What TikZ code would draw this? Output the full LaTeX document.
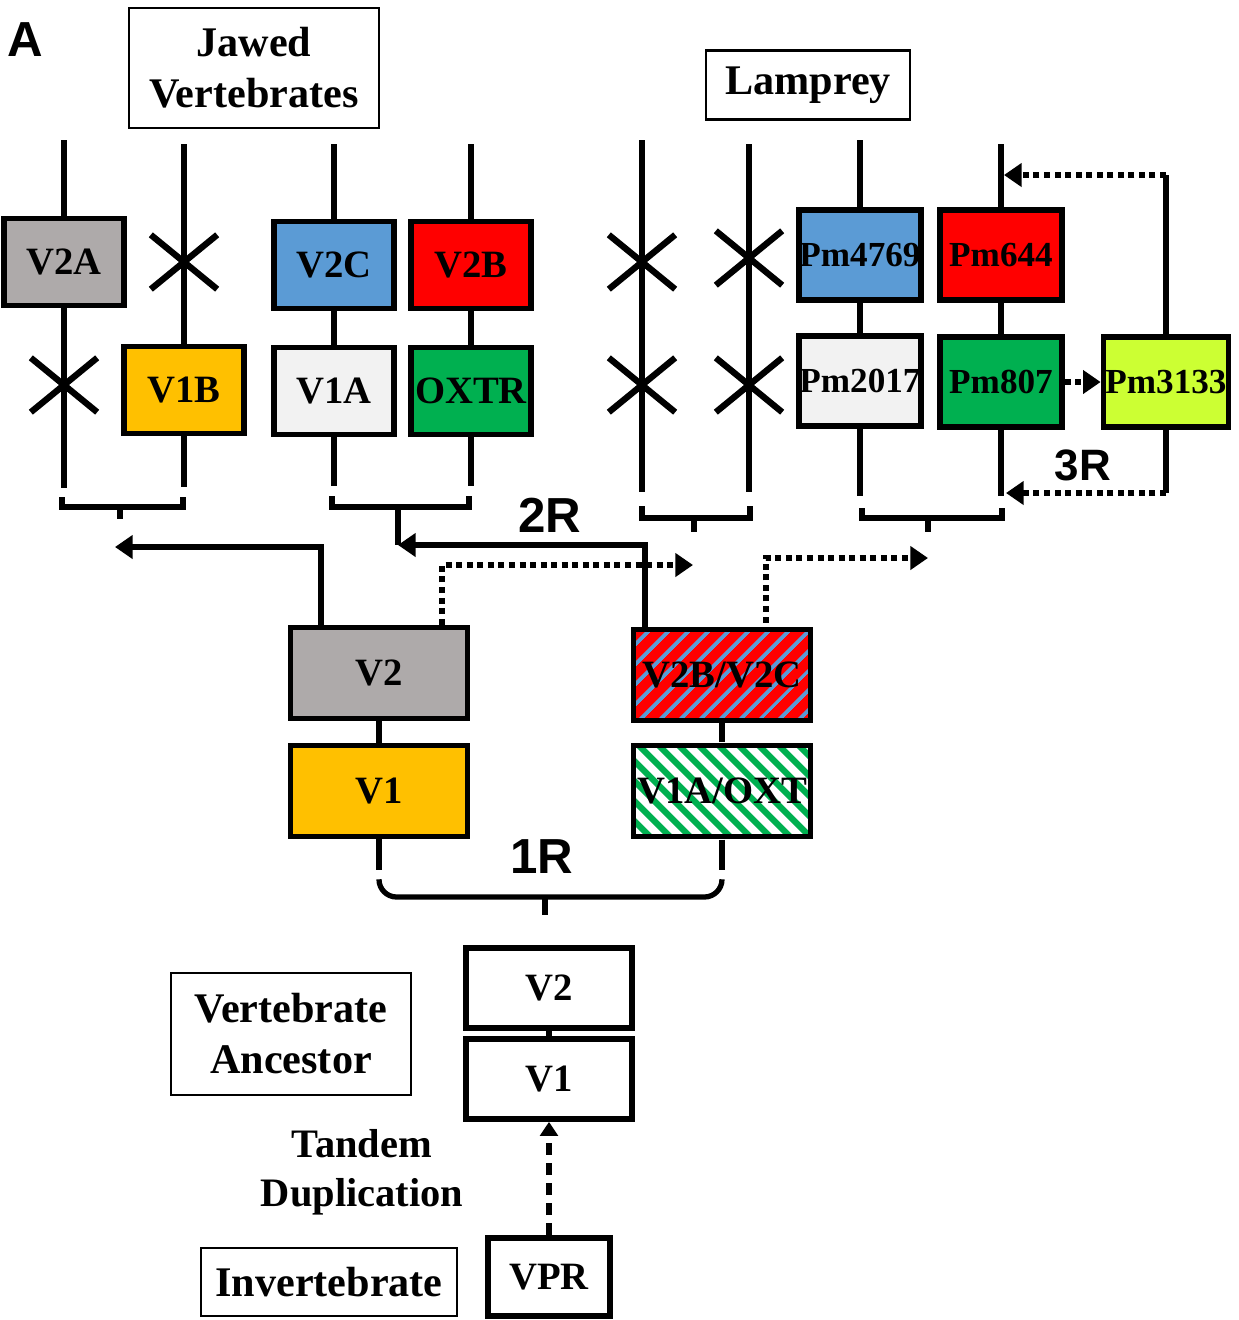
\documentclass[tikz,border=0pt]{standalone}
\usepackage{fontspec}
\setmainfont{Liberation Serif}
\newfontfamily\arialfont{Liberation Sans}
\usetikzlibrary{arrows.meta,shapes.misc,patterns.meta}

\definecolor{vgray}{HTML}{AEAAAA}
\definecolor{vgold}{HTML}{FFC000}
\definecolor{vblue}{HTML}{5B9BD5}
\definecolor{vlight}{HTML}{F2F2F2}
\definecolor{vgreen}{HTML}{00B050}
\definecolor{vlime}{HTML}{CCFF33}

\tikzset{
    gene/.style={draw, line width=1.6pt, inner sep=0pt, font=\bfseries\fontsize{11}{13}\selectfont},
    jbox/.style={gene, minimum width=1.2cm, minimum height=0.87cm},
    lbox/.style={gene, minimum width=1.22cm, minimum height=0.9cm, font=\bfseries\fontsize{10}{12}\selectfont},
    mbox/.style={gene, minimum width=1.77cm, minimum height=0.91cm},
    abox/.style={gene, minimum width=1.66cm, minimum height=0.8cm},
    tag/.style={draw, line width=0.6pt, align=center, font=\bfseries\fontsize{12}{14.5}\selectfont},
    chrom/.style={line width=1.5pt},
    loss/.style={cross out, draw, line width=1.8pt, minimum width=0.6cm, minimum height=0.48cm, inner sep=0pt},
    dup/.style={line width=1.8pt, dash pattern=on 1.7pt off 1.3pt, -{Triangle[length=5pt,width=6.5pt]}},
    move/.style={line width=1.5pt, -{Triangle[length=5pt,width=6.5pt]}},
    tandemarrow/.style={line width=1.5pt, dash pattern=on 3.4pt off 2.3pt, -{Triangle[length=4pt,width=5pt]}},
    round/.style={font=\arialfont\bfseries\fontsize{14}{16}\selectfont},
    redblue/.style={preaction={fill=red}, pattern={Lines[angle=45,distance=4pt,line width=1.1pt]}, pattern color=vblue},
    greenwhite/.style={preaction={fill=white}, pattern={Lines[angle=-45,distance=4pt,line width=1.8pt]}, pattern color=vgreen},
}

\begin{document}
\begin{tikzpicture}[x=0.01cm, y=-0.01cm]
    \useasboundingbox (0,0) rectangle (1239,1320);

    \node[round] (panel) at (25,40) {A};
    \node[tag, minimum width=2.5cm, minimum height=1.2cm] (jawed) at (254,68) {Jawed\\Vertebrates};
    \node[tag, minimum width=2.03cm, minimum height=0.69cm] (lamprey) at (808,85) {Lamprey};

    % jawed vertebrates
    \node[jbox, fill=vgray] (v2a) at (64,262) {V2A};
    \node[jbox, fill=vgold] (v1b) at (184,390) {V1B};
    \node[jbox, fill=vblue] (v2c) at (334,265) {V2C};
    \node[jbox, fill=red] (v2b) at (471,265) {V2B};
    \node[jbox, fill=vlight] (v1a) at (334,391) {V1A};
    \node[jbox, fill=vgreen] (oxtr) at (471,391) {OXTR};

    \coordinate (j1t) at (64,140);
    \coordinate (j1b) at (64,488);
    \coordinate (j2t) at (184,144);
    \coordinate (j2b) at (184,487);
    \coordinate (j3t) at (334,144);
    \coordinate (j3b) at (334,486);
    \coordinate (j4t) at (471,144);
    \coordinate (j4b) at (471,486);

    \draw[chrom] (j1t) -- (v2a.north);
    \draw[chrom] (v2a.south) -- (j1b);
    \draw[chrom] (j2t) -- (v1b.north);
    \draw[chrom] (v1b.south) -- (j2b);
    \draw[chrom] (j3t) -- (v2c.north);
    \draw[chrom] (v2c) -- (v1a);
    \draw[chrom] (v1a.south) -- (j3b);
    \draw[chrom] (j4t) -- (v2b.north);
    \draw[chrom] (v2b) -- (oxtr);
    \draw[chrom] (oxtr.south) -- (j4b);

    \node[loss] (x1) at (64,385) {};
    \node[loss] (x2) at (184,262) {};

    \draw[chrom] (62,497) |- (183,507) -- (183,497);
    \draw[chrom] (120,507) -- (120,519);
    \coordinate (jb2) at (398,545);
    \draw[chrom] (332,496) |- (469,507) -- (469,496);
    \draw[chrom] (398,507) -- (jb2);

    % lamprey
    \node[lbox, fill=vblue] (pm4769) at (860,255) {Pm4769};
    \node[lbox, fill=red] (pm644) at (1001,255) {Pm644};
    \node[lbox, fill=vlight] (pm2017) at (860,381) {Pm2017};
    \node[lbox, fill=vgreen] (pm807) at (1001,382) {Pm807};
    \node[lbox, fill=vlime, minimum width=1.25cm] (pm3133) at (1166,382) {Pm3133};

    \coordinate (l1t) at (642,140);
    \coordinate (l1b) at (642,492);
    \coordinate (l2t) at (749,144);
    \coordinate (l2b) at (749,492);
    \coordinate (l3t) at (860,140);
    \coordinate (l3b) at (860,496);
    \coordinate (l4t) at (1001,144);
    \coordinate (l4b) at (1001,496);
    \coordinate (l5t) at (1166,175);
    \coordinate (l5b) at (1166,493);

    \draw[chrom] (l1t) -- (l1b);
    \draw[chrom] (l2t) -- (l2b);
    \draw[chrom] (l3t) -- (pm4769.north);
    \draw[chrom] (pm4769) -- (pm2017);
    \draw[chrom] (pm2017.south) -- (l3b);
    \draw[chrom] (l4t) -- (pm644.north);
    \draw[chrom] (pm644) -- (pm807);
    \draw[chrom] (pm807.south) -- (l4b);
    \draw[chrom] (pm3133.north) -- (l5t);
    \draw[chrom] (pm3133.south) -- (l5b);

    \node[loss] (x3) at (642,262) {};
    \node[loss] (x4) at (642,385) {};
    \node[loss] (x5) at (749,258) {};
    \node[loss] (x6) at (749,385) {};

    \draw[dup] (l5t) -- ([xshift=0.03cm]l4t |- l5t);
    \draw[dup] (l5b) -- ([xshift=0.05cm]l4b |- l5b);
    \draw[dup] (pm807) -- (pm3133);
    \node[round, font=\arialfont\bfseries\fontsize{12.5}{14}\selectfont] (r3) at (1083,465) {3R};

    \draw[chrom] (642,506) |- (750,518) -- (750,506);
    \draw[chrom] (694,518) -- (694,532);
    \draw[chrom] (862,508) |- (1002,518) -- (1002,508);
    \draw[chrom] (928,518) -- (928,532);

    % after 1R
    \node[mbox, fill=vgray] (v2) at (379,673) {V2};
    \node[mbox, fill=vgold] (v1) at (379,791) {V1};
    \node[mbox, redblue] (v2bc) at (722,675) {V2B/V2C};
    \node[mbox, greenwhite] (v1ao) at (722,791) {V1A/OXT};
    \draw[chrom] (v2) -- (v1);
    \draw[chrom] (v2bc) -- (v1ao);

    \node[round] (r2) at (550,515) {2R};
    \coordinate (jtip) at (115,547);
    \coordinate (ltip1) at (693,565);
    \coordinate (ltip2) at (928,558);
    \draw[move] ([xshift=-0.58cm]v2.north) |- (jtip);
    \draw[move] ([xshift=-0.77cm]v2bc.north) |- (jb2);
    \draw[dup] ([xshift=0.63cm]v2.north) |- (ltip1);
    \draw[dup] ([xshift=0.44cm,yshift=0.05cm]v2bc.north) |- (ltip2);

    \coordinate (r1a) at (379,870);
    \coordinate (r1b) at (722,870);
    \draw[chrom] (v1.south) -- (r1a);
    \draw[chrom] (v1ao.south) -- (r1b);
    \draw[chrom, rounded corners=5pt] (379,880) |- (545,897) -| (722,880);
    \draw[chrom] (545,897) -- (545,915);
    \node[round] (r1) at (542,857) {1R};

    % ancestor
    \node[tag, minimum width=2.39cm, minimum height=1.22cm] (anc) at (291,1034) {Vertebrate\\Ancestor};
    \node[abox] (av2) at (549,988) {V2};
    \node[abox] (av1) at (549,1079) {V1};
    \draw[chrom] (av2) -- (av1);
    \node[font=\bfseries\fontsize{11.5}{13.8}\selectfont, align=center] (tandem) at (362,1172) {Tandem\\Duplication};
    \node[gene, minimum width=1.22cm, minimum height=0.78cm] (vpr) at (549,1277) {VPR};
    \draw[tandemarrow] (vpr) -- (av1);
    \node[tag, minimum width=2.55cm, minimum height=0.68cm] (inv) at (329,1282) {Invertebrate};
\end{tikzpicture}
\end{document}
